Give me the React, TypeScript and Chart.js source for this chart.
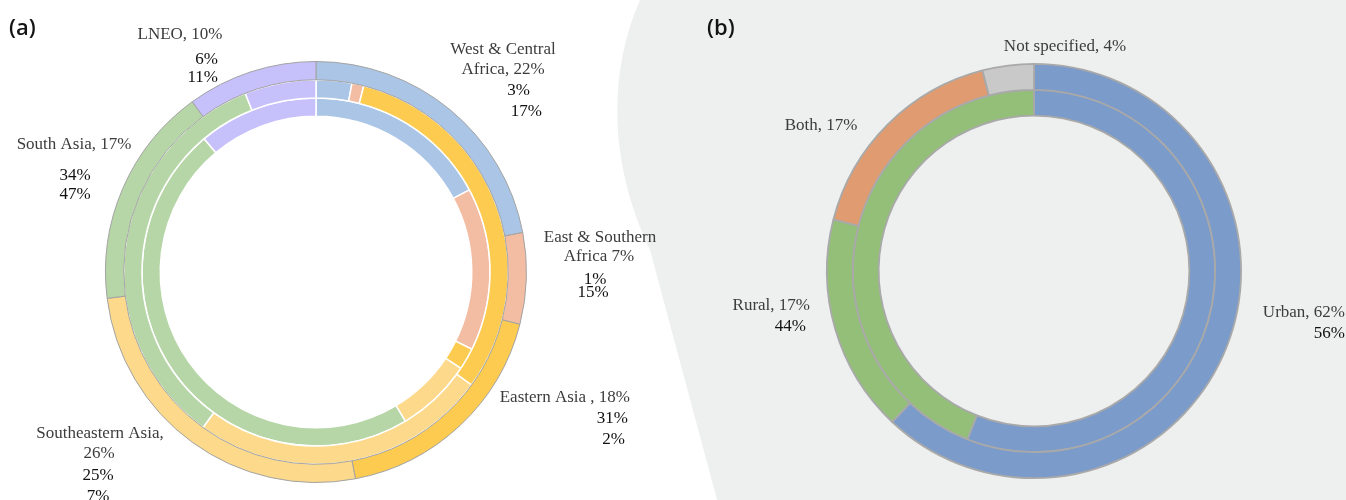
import React, { useEffect, useRef } from "react";
import { Chart, registerables } from "chart.js";

Chart.register(...registerables);

// ---------- Data: panel (a) ----------
const regionNames = [
  "West & Central Africa",
  "East & Southern Africa",
  "Eastern Asia",
  "Southeastern Asia",
  "South Asia",
  "LNEO",
];
const outerShares = [22, 7, 18, 26, 17, 10];
const middleShares = [3, 1, 31, 25, 34, 6];
const innerShares = [17, 15, 2, 7, 47, 11];
const regionColors = ["#aac5e5", "#f3bda3", "#fccb50", "#fdd98c", "#b6d6a7", "#c6c0fb"];

// ---------- Data: panel (b) ----------
const settingNames = ["Urban", "Rural", "Both", "Not specified"];
const settingOuter = [62, 17, 17, 4];
const settingInner = [56, 44, 0, 0];
const settingColors = ["#7b9bca", "#94bf79", "#e09c70", "#c9c9c9"];

type Lbl = { text: string; dx: number; dy: number; align: CanvasTextAlign; num?: boolean };

const pct = (v: number) => `${v}%`;

const labelsA: Lbl[] = [
  { text: `${regionNames[5]}, ${pct(outerShares[5])}`, dx: -136, dy: -237, align: "center" },
  { text: pct(middleShares[5]), dx: -98, dy: -212, align: "right", num: true },
  { text: pct(innerShares[5]), dx: -98, dy: -194, align: "right", num: true },
  { text: `${regionNames[4]}, ${pct(outerShares[4])}`, dx: -242, dy: -127, align: "center" },
  { text: pct(middleShares[4]), dx: -241, dy: -96, align: "center", num: true },
  { text: pct(innerShares[4]), dx: -241, dy: -77, align: "center", num: true },
  { text: "West & Central", dx: 187, dy: -222, align: "center" },
  { text: `Africa, ${pct(outerShares[0])}`, dx: 187, dy: -202, align: "center" },
  { text: pct(middleShares[0]), dx: 214, dy: -181, align: "right", num: true },
  { text: pct(innerShares[0]), dx: 226, dy: -160, align: "right", num: true },
  { text: "East & Southern", dx: 284, dy: -34, align: "center" },
  { text: `Africa ${pct(outerShares[1])}`, dx: 283, dy: -15, align: "center" },
  { text: pct(middleShares[1]), dx: 279, dy: 8, align: "center", num: true },
  { text: pct(innerShares[1]), dx: 277, dy: 21, align: "center", num: true },
  { text: `${regionNames[2]} , ${pct(outerShares[2])}`, dx: 314, dy: 126, align: "right" },
  { text: pct(middleShares[2]), dx: 312, dy: 147, align: "right", num: true },
  { text: pct(innerShares[2]), dx: 309, dy: 168, align: "right", num: true },
  { text: `${regionNames[3]},`, dx: -216, dy: 162, align: "center" },
  { text: pct(outerShares[3]), dx: -217, dy: 182, align: "center" },
  { text: pct(middleShares[3]), dx: -218, dy: 204, align: "center", num: true },
  { text: pct(innerShares[3]), dx: -218, dy: 225, align: "center", num: true },
];

const labelsB: Lbl[] = [
  { text: `${settingNames[3]}, ${pct(settingOuter[3])}`, dx: 31, dy: -224, align: "center" },
  { text: `${settingNames[2]}, ${pct(settingOuter[2])}`, dx: -213, dy: -145, align: "center" },
  { text: `${settingNames[1]}, ${pct(settingOuter[1])}`, dx: -224, dy: 35, align: "right" },
  { text: pct(settingInner[1]), dx: -228, dy: 56, align: "right", num: true },
  { text: `${settingNames[0]}, ${pct(settingOuter[0])}`, dx: 311, dy: 42, align: "right" },
  { text: pct(settingInner[0]), dx: 311, dy: 63, align: "right", num: true },
];

function makeLabelPlugin(labels: Lbl[]) {
  return {
    id: "ringLabels",
    afterDraw(chart: any) {
      const arc = chart.getDatasetMeta(0).data[0];
      if (!arc) return;
      const cx = arc.x;
      const cy = arc.y;
      const ctx = chart.ctx;
      ctx.save();
      ctx.textBaseline = "middle";
      for (const l of labels) {
        ctx.font = '17px "Liberation Serif"';
        ctx.fillStyle = l.num ? "#111111" : "#3c3c3c";
        ctx.textAlign = l.align;
        ctx.fillText(l.text, cx + l.dx, cy + l.dy);
      }
      ctx.restore();
    },
  };
}

function RingChart(props: {
  left: number;
  width: number;
  padding: { left: number; right: number; top: number; bottom: number };
  cutout: string;
  datasets: any[];
  labelNames: string[];
  labels: Lbl[];
}) {
  const ref = useRef<HTMLCanvasElement>(null);
  useEffect(() => {
    if (!ref.current) return;
    const chart = new Chart(ref.current, {
      type: "doughnut",
      data: { labels: props.labelNames, datasets: props.datasets },
      options: {
        responsive: false,
        animation: false,
        cutout: props.cutout,
        layout: { padding: props.padding },
        plugins: { legend: { display: false }, tooltip: { enabled: false } },
        events: [],
      },
      plugins: [makeLabelPlugin(props.labels)],
    } as any);
    return () => chart.destroy();
  }, []);
  return (
    <canvas
      ref={ref}
      width={props.width}
      height={500}
      style={{ position: "absolute", left: props.left, top: 0, width: props.width, height: 500 }}
    />
  );
}

export default function App() {
  const datasetsA = [
    { data: outerShares, backgroundColor: regionColors, borderColor: "#a3a3a3", borderWidth: 1 },
    { data: middleShares, backgroundColor: regionColors, borderColor: "#ffffff", borderWidth: 1.5 },
    { data: innerShares, backgroundColor: regionColors, borderColor: "#ffffff", borderWidth: 1.5 },
  ];
  const datasetsB = [
    { data: settingOuter, backgroundColor: settingColors, borderColor: "#a9a9a9", borderWidth: 1.8 },
    { data: settingInner, backgroundColor: settingColors, borderColor: "#a9a9a9", borderWidth: 1.8 },
  ];
  const panelTag = {
    position: "absolute" as const,
    top: 14,
    font: '600 22px "Open Sans"',
    lineHeight: "24px",
    color: "#141414",
  };
  return (
    <div
      style={{
        position: "absolute",
        left: 0,
        top: 0,
        width: 1346,
        height: 500,
        overflow: "hidden",
        background: "#ffffff",
      }}
    >
      <svg width={1346} height={500} style={{ position: "absolute", left: 0, top: 0 }}>
        <path d="M640,0 C605,80 612,170 650,250 L717,500 L1346,500 L1346,0 Z" fill="#eef0ef" />
      </svg>
      <RingChart
        left={0}
        width={660}
        padding={{ left: 105, right: 133, top: 61, bottom: 17 }}
        cutout="74%"
        datasets={datasetsA}
        labelNames={regionNames}
        labels={labelsA}
      />
      <RingChart
        left={680}
        width={666}
        padding={{ left: 146, right: 104, top: 63, bottom: 21 }}
        cutout="75%"
        datasets={datasetsB}
        labelNames={settingNames}
        labels={labelsB}
      />
      <div style={{ ...panelTag, left: 9 }}>(a)</div>
      <div style={{ ...panelTag, left: 707 }}>(b)</div>
    </div>
  );
}
